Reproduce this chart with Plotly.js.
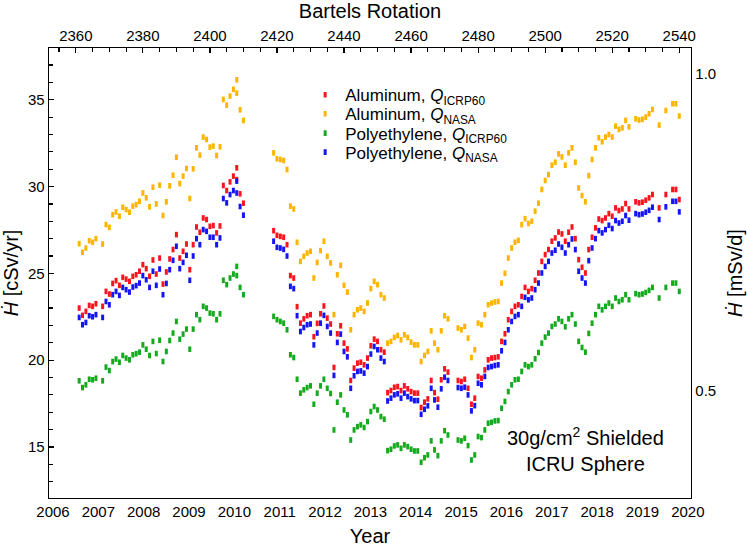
<!DOCTYPE html>
<html>
<head>
<meta charset="utf-8">
<script src="https://cdn.plot.ly/plotly-3.0.1.min.js"></script>
<style>
  html, body { margin: 0; padding: 0; background: #fff; }
  #chart { width: 747px; height: 548px; }
</style>
</head>
<body>
<div id="chart"></div>
<script>
// Dose equivalent rates behind 30 g/cm2 of shielding, one value per Bartels
// rotation. Rotation 2408 has two points.
const rotation = [
  2361, 2362, 2363, 2364, 2365, 2366, 2368, 2369, 2370, 2371,
  2372, 2373, 2374, 2375, 2376, 2377, 2378, 2379, 2380, 2381,
  2382, 2383, 2384, 2385, 2386, 2387, 2388, 2389, 2390, 2391,
  2392, 2393, 2394, 2395, 2396, 2397, 2398, 2399, 2400, 2401,
  2402, 2403, 2404, 2405, 2406, 2407, 2408, 2408, 2409, 2410,
  2419, 2420, 2421, 2422, 2423, 2424, 2425, 2426, 2427, 2428,
  2429, 2430, 2431, 2432, 2433, 2434, 2435, 2436, 2437, 2438,
  2439, 2440, 2441, 2442, 2443, 2444, 2445, 2446, 2447, 2448,
  2449, 2450, 2451, 2452, 2453, 2454, 2455, 2456, 2457, 2458,
  2459, 2460, 2461, 2462, 2463, 2464, 2465, 2466, 2467, 2468,
  2469, 2470, 2471, 2474, 2475, 2476, 2477, 2478, 2479, 2480,
  2481, 2482, 2483, 2484, 2485, 2486, 2487, 2488, 2489, 2490,
  2491, 2492, 2493, 2494, 2495, 2496, 2497, 2498, 2499, 2500,
  2501, 2502, 2503, 2504, 2505, 2506, 2507, 2508, 2509, 2510,
  2511, 2512, 2513, 2514, 2515, 2516, 2517, 2518, 2519, 2520,
  2521, 2522, 2523, 2524, 2525, 2527, 2528, 2529, 2530, 2531,
  2532, 2534, 2536, 2538, 2539, 2540
];

// Aluminum, Q ICRP60 [cSv/yr]
const alIcrp = [
  23.00, 22.58, 22.81, 23.15, 23.10, 23.25, 23.10, 23.96, 23.81, 24.42,
  24.58, 24.31, 24.77, 24.67, 24.54, 24.83, 24.92, 25.12, 25.50, 25.27,
  24.83, 25.77, 24.96, 25.88, 24.38, 25.08, 25.83, 26.37, 27.23, 25.88,
  26.27, 26.69, 25.21, 26.65, 27.67, 27.37, 28.19, 28.10, 27.71, 27.75,
  27.33, 27.73, 30.06, 29.77, 30.27, 30.60, 30.40, 31.08, 29.58, 29.04,
  27.46, 27.19, 27.13, 27.08, 26.65, 24.87, 24.73, 23.08, 22.13, 22.38,
  22.56, 22.62, 21.35, 22.12, 22.67, 23.12, 22.42, 22.08, 19.58, 21.52,
  21.98, 20.98, 20.65, 18.83, 19.54, 19.83, 19.88, 19.73, 20.12, 20.83,
  21.21, 21.08, 20.60, 20.46, 18.13, 18.25, 18.44, 18.48, 18.25, 18.52,
  18.35, 18.19, 18.10, 18.10, 17.27, 17.58, 17.77, 18.83, 18.13, 17.75,
  18.87, 19.50, 19.31, 18.83, 18.77, 18.90, 18.38, 17.46, 17.81, 19.06,
  18.96, 19.44, 20.02, 20.12, 20.15, 20.19, 21.08, 21.52, 22.33, 22.81,
  23.10, 23.19, 23.67, 24.19, 23.96, 24.12, 24.60, 25.02, 25.69, 26.08,
  26.37, 26.85, 27.04, 27.38, 27.27, 26.85, 27.37, 27.67, 27.00, 25.79,
  25.35, 25.02, 26.37, 27.08, 27.62, 28.13, 28.04, 28.19, 28.44, 28.29,
  28.77, 28.62, 28.71, 29.02, 28.71, 29.12, 29.06, 29.10, 29.21, 29.35,
  29.54, 28.77, 29.54, 29.83, 29.83, 29.25
];

// Aluminum, Q NASA [cSv/yr]
const alNasa = [
  26.71, 26.21, 26.46, 26.88, 26.79, 27.00, 26.69, 27.81, 27.65, 28.38,
  28.54, 28.29, 28.81, 28.67, 28.52, 28.87, 28.96, 29.15, 29.63, 29.35,
  28.83, 29.96, 29.00, 30.08, 28.33, 29.12, 30.04, 30.65, 31.69, 30.17,
  30.60, 31.04, 29.31, 31.02, 32.23, 31.81, 32.85, 32.71, 32.27, 32.33,
  31.79, 32.29, 35.02, 34.69, 35.21, 35.60, 35.38, 36.15, 34.42, 33.81,
  31.94, 31.60, 31.56, 31.50, 30.98, 28.87, 28.71, 26.79, 25.69, 25.98,
  26.17, 26.27, 24.73, 25.63, 26.31, 26.85, 25.98, 25.60, 22.62, 24.92,
  25.46, 24.31, 23.92, 21.75, 22.62, 22.90, 23.00, 22.81, 23.29, 24.12,
  24.54, 24.35, 23.77, 23.58, 20.98, 21.08, 21.31, 21.42, 21.17, 21.46,
  21.31, 21.04, 20.88, 20.88, 19.92, 20.27, 20.50, 21.69, 20.98, 20.60,
  21.69, 22.56, 22.38, 21.85, 21.75, 21.94, 21.27, 20.15, 20.60, 22.13,
  22.04, 22.62, 23.19, 23.29, 23.35, 23.38, 24.44, 25.00, 25.88, 26.46,
  26.79, 26.90, 27.81, 28.15, 27.87, 28.00, 28.58, 29.04, 29.83, 30.35,
  30.69, 31.23, 31.40, 31.88, 31.71, 31.23, 31.94, 32.23, 31.40, 29.92,
  29.48, 29.12, 30.63, 31.56, 32.23, 32.81, 32.58, 32.85, 33.00, 32.85,
  33.48, 33.29, 33.38, 33.81, 33.44, 33.90, 33.83, 33.87, 34.00, 34.19,
  34.44, 33.54, 34.38, 34.77, 34.77, 34.06
];

// Polyethylene, Q ICRP60 [cSv/yr]
const peIcrp = [
  18.81, 18.42, 18.58, 18.90, 18.87, 18.96, 18.81, 19.60, 19.40, 19.92,
  20.06, 19.88, 20.27, 20.12, 20.02, 20.31, 20.37, 20.46, 20.88, 20.63,
  20.27, 21.08, 20.38, 21.15, 19.92, 20.50, 21.13, 21.56, 22.23, 21.21,
  21.50, 21.79, 20.63, 21.79, 22.62, 22.33, 23.10, 23.00, 22.71, 22.67,
  22.33, 22.67, 24.60, 24.35, 24.73, 24.96, 24.87, 25.40, 24.19, 23.77,
  22.52, 22.33, 22.23, 22.13, 21.75, 20.31, 20.15, 18.90, 18.10, 18.29,
  18.42, 18.52, 17.46, 18.10, 18.52, 18.90, 18.38, 18.08, 15.98, 17.58,
  18.00, 17.13, 16.85, 15.40, 15.98, 16.17, 16.27, 16.12, 16.46, 17.04,
  17.33, 17.13, 16.75, 16.60, 14.79, 14.87, 15.06, 15.12, 14.92, 15.12,
  15.02, 14.87, 14.77, 14.77, 14.12, 14.38, 14.54, 15.35, 14.83, 14.50,
  15.35, 15.94, 15.69, 15.40, 15.35, 15.50, 15.08, 14.25, 14.54, 15.60,
  15.54, 15.98, 16.37, 16.42, 16.50, 16.52, 17.23, 17.62, 18.19, 18.58,
  18.87, 18.90, 19.35, 19.73, 19.63, 19.73, 20.08, 20.44, 20.98, 21.33,
  21.56, 21.94, 22.08, 22.38, 22.23, 21.92, 22.38, 22.62, 22.08, 21.08,
  20.73, 20.46, 21.54, 22.13, 22.62, 23.10, 22.90, 23.10, 23.29, 23.10,
  23.58, 23.38, 23.48, 23.77, 23.48, 23.83, 23.77, 23.81, 23.90, 24.02,
  24.19, 23.58, 24.19, 24.44, 24.44, 23.96
];

// Polyethylene, Q NASA [cSv/yr]
const peNasa = [
  22.46, 22.04, 22.17, 22.56, 22.50, 22.62, 22.46, 23.38, 23.19, 23.77,
  23.96, 23.73, 24.19, 24.06, 23.92, 24.21, 24.29, 24.44, 24.87, 24.63,
  24.19, 25.12, 24.31, 25.25, 23.77, 24.42, 25.21, 25.75, 26.56, 25.27,
  25.63, 26.04, 24.60, 26.00, 27.00, 26.65, 27.52, 27.42, 27.08, 27.08,
  26.65, 27.04, 29.31, 29.06, 29.54, 29.77, 29.63, 30.31, 28.85, 28.35,
  26.85, 26.50, 26.46, 26.38, 26.00, 24.25, 24.12, 22.56, 21.65, 21.88,
  22.04, 22.08, 20.88, 21.56, 22.13, 22.58, 21.94, 21.56, 19.12, 21.02,
  21.50, 20.50, 20.19, 18.38, 19.10, 19.35, 19.38, 19.25, 19.63, 20.35,
  20.79, 20.60, 20.12, 19.92, 17.65, 17.81, 18.00, 18.06, 17.81, 18.10,
  17.90, 17.77, 17.67, 17.67, 16.88, 17.17, 17.37, 18.38, 17.71, 17.29,
  18.35, 19.02, 18.83, 18.42, 18.38, 18.44, 18.00, 17.08, 17.38, 18.67,
  18.58, 19.06, 19.58, 19.63, 19.69, 19.73, 20.54, 21.02, 21.75, 22.23,
  22.52, 22.62, 23.10, 23.62, 23.48, 23.58, 24.06, 24.44, 25.02, 25.40,
  25.69, 26.17, 26.33, 26.69, 26.50, 26.17, 26.65, 26.98, 26.37, 25.12,
  24.73, 24.44, 25.73, 26.46, 27.00, 27.46, 27.33, 27.52, 27.77, 27.58,
  28.04, 27.90, 28.00, 28.33, 28.06, 28.44, 28.38, 28.42, 28.52, 28.63,
  28.81, 28.10, 28.83, 29.15, 29.15, 28.54
];

const yearTicks = [2006, 2007, 2008, 2009, 2010, 2011, 2012, 2013, 2014, 2015, 2016, 2017, 2018, 2019, 2020];
const rotationTicks = [2360, 2380, 2400, 2420, 2440, 2460, 2480, 2500, 2520, 2540];
const rateTicks = [0.5, 1.0];

// cSv/yr -> mSv/d
const PER_DAY = 36.525;

const FONT = "Liberation Sans, Arial, Helvetica, sans-serif";
const RED = "rgb(250,20,30)";
const ORANGE = "rgb(255,180,0)";
const GREEN = "rgb(20,170,30)";
const BLUE = "rgb(20,20,245)";

const Y_RANGE = [12.06, 37.98];

// One legend per series so the rows sit as tight as in the paper figure.
function series(name, values, color, legendId) {
  return {
    type: "scatter",
    mode: "markers",
    name: name,
    legend: legendId,
    x: rotation,
    y: values,
    xaxis: "x2",
    yaxis: "y",
    marker: { symbol: "line-ns", size: 4, line: { color: color, width: 3 } },
    hoverinfo: "skip",
  };
}

const traces = [
  series("Aluminum, <i>Q</i><sub>ICRP60</sub>", alIcrp, RED, "legend"),
  series("Aluminum, <i>Q</i><sub>NASA</sub>", alNasa, ORANGE, "legend2"),
  series("Polyethylene, <i>Q</i><sub>ICRP60</sub>", peIcrp, GREEN, "legend3"),
  series("Polyethylene, <i>Q</i><sub>NASA</sub>", peNasa, BLUE, "legend4"),
  // empty trace so the year axis and the mSv/d axis get a subplot
  { type: "scatter", x: [], y: [], xaxis: "x", yaxis: "y2", showlegend: false, hoverinfo: "skip" },
];

function legendAt(y) {
  return {
    x: 0.399,
    y: y,
    xanchor: "left",
    yanchor: "top",
    bgcolor: "rgba(0,0,0,0)",
    font: { family: FONT, size: 17, color: "#000" },
  };
}

const AXIS = {
  showgrid: false,
  zeroline: false,
  showline: true,
  linecolor: "#000",
  linewidth: 1.3,
  ticks: "inside",
  ticklen: 5,
  tickwidth: 1.2,
  tickcolor: "#000",
  tickfont: { family: FONT, size: 15, color: "#000" },
  fixedrange: true,
};

const MINOR = { ticks: "inside", ticklen: 4, tickwidth: 1.2, tickcolor: "#000", showgrid: false };

const layout = {
  width: 747,
  height: 548,
  margin: { l: 49, r: 56, t: 48, b: 50 },
  paper_bgcolor: "#fff",
  plot_bgcolor: "#fff",
  font: { family: FONT, color: "#000" },
  showlegend: true,
  legend: legendAt(0.935),
  legend2: legendAt(0.8928),
  legend3: legendAt(0.8499),
  legend4: legendAt(0.8077),
  xaxis: Object.assign({}, AXIS, {
    range: [2005.912, 2020.07],
    tickvals: yearTicks,
    title: { text: "Year", font: { family: FONT, size: 20 }, standoff: 9 },
  }),
  xaxis2: Object.assign({}, AXIS, {
    overlaying: "x",
    side: "top",
    anchor: "y",
    range: [2352.0, 2543.5],
    tickvals: rotationTicks,
    minor: Object.assign({ dtick: 5, tick0: 2360 }, MINOR),
    title: { text: "Bartels Rotation", font: { family: FONT, size: 20 }, standoff: 6 },
  }),
  yaxis: Object.assign({}, AXIS, {
    range: Y_RANGE,
    tick0: 15,
    dtick: 5,
    minor: Object.assign({ dtick: 1, tick0: 15 }, MINOR),
    title: { text: "<i>Ḣ</i> [cSv/yr]", font: { family: FONT, size: 20 }, standoff: 8 },
  }),
  yaxis2: Object.assign({}, AXIS, {
    overlaying: "y",
    side: "right",
    anchor: "x",
    range: [Y_RANGE[0] / PER_DAY, Y_RANGE[1] / PER_DAY],
    tickvals: rateTicks,
    tickformat: ".1f",
    minor: Object.assign({ dtick: 0.1, tick0: 0.5 }, MINOR),
    title: { text: "<i>Ḣ</i> [mSv/d]", font: { family: FONT, size: 20 }, standoff: 12 },
  }),
  annotations: [
    {
      xref: "paper",
      yref: "paper",
      x: 0.835,
      y: 0.108,
      xanchor: "center",
      yanchor: "middle",
      showarrow: false,
      align: "center",
      text: "30g/cm<sup>2</sup> Shielded<br>ICRU Sphere",
      font: { family: FONT, size: 20, color: "#000" },
    },
  ],
};

Plotly.newPlot("chart", traces, layout, { displayModeBar: false, staticPlot: true });
</script>
</body>
</html>
